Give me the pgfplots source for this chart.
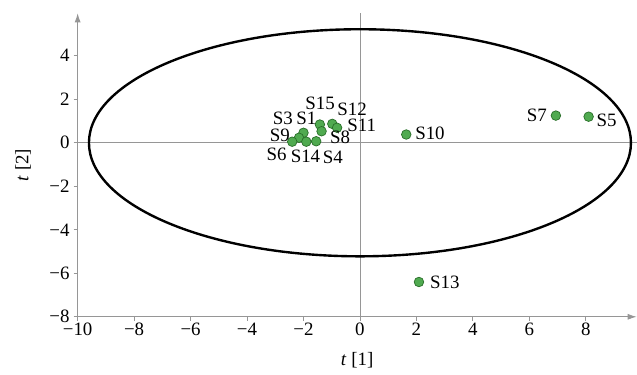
\documentclass[border=0pt]{standalone}
\usepackage{fontspec}
\setmainfont{Liberation Serif}
\usepackage{pgfplots}
\pgfplotsset{compat=1.18}
\usetikzlibrary{arrows.meta}
\definecolor{ptfill}{RGB}{80,170,80}
\definecolor{ptdraw}{RGB}{40,110,40}
\definecolor{axgray}{RGB}{150,150,150}
\begin{document}
\fontsize{19}{22}\selectfont
\begin{tikzpicture}
\begin{axis}[
  scale only axis, width=560bp, height=304bp,
  xmin=-10, xmax=9.8, ymin=-8, ymax=5.95,
  axis lines=left,
  axis line style={axgray, line width=0.8pt, -{Latex[length=9bp,width=6bp]}},
  xtick={-10,-8,-6,-4,-2,0,2,4,6,8},
  xticklabels={−10,−8,−6,−4,−2,0,2,4,6,8},
  ytick={-8,-6,-4,-2,0,2,4},
  yticklabels={−8,−6,−4,−2,0,2,4},
  tick style={axgray, line width=0.8pt},
  tick align=outside, major tick length=4bp,
  ticklabel style={font=\fontsize{19}{22}\selectfont, inner sep=2pt},
  yticklabel style={xshift=-2bp},
  xlabel={\textit{t} [1]}, ylabel={\textit{t} [2]},
  label style={font=\fontsize{19}{22}\selectfont},
  xlabel shift=8bp, ylabel shift=10bp,
  clip=false,
]
\draw[axgray, line width=0.8pt] (axis cs:0,-8) -- (axis cs:0,5.95);
\draw[axgray, line width=0.8pt] (axis cs:-10,0) -- (axis cs:9.8,0);
\draw[black, line width=2.4pt] (axis cs:0,0) ellipse [x radius=9.6, y radius=5.22];
\addplot[only marks, mark=*, mark size=4.8bp, mark options={fill=ptfill, draw=ptdraw, line width=0.7pt}]
table {
x y
8.1 1.2
6.94 1.25
1.64 0.38
2.09 -6.4
-1.42 0.84
-0.98 0.87
-0.81 0.69
-1.36 0.53
-2.0 0.46
-2.16 0.23
-2.4 0.05
-1.9 0.05
-1.55 0.07
};
\addplot[draw=none, mark=none, nodes near coords, point meta=explicit symbolic,
  every node near coord/.style={anchor=center, inner sep=0pt, font=\fontsize{19}{22}\selectfont}]
table[meta=label] {
x y label
-1.41 1.82 S15
-0.28 1.55 S12
0.06 0.80 S11
-2.73 1.14 S3
-1.90 1.12 S1
-2.84 0.34 S9
-0.70 0.26 S8
-2.95 -0.54 S6
-1.93 -0.64 S14
-0.96 -0.68 S4
2.48 0.45 S10
6.27 1.28 S7
8.74 1.05 S5
3.01 -6.42 S13
};
\end{axis}
\path ([yshift=13bp]current bounding box.north) ([xshift=-9bp]current bounding box.west);
\end{tikzpicture}
\end{document}
